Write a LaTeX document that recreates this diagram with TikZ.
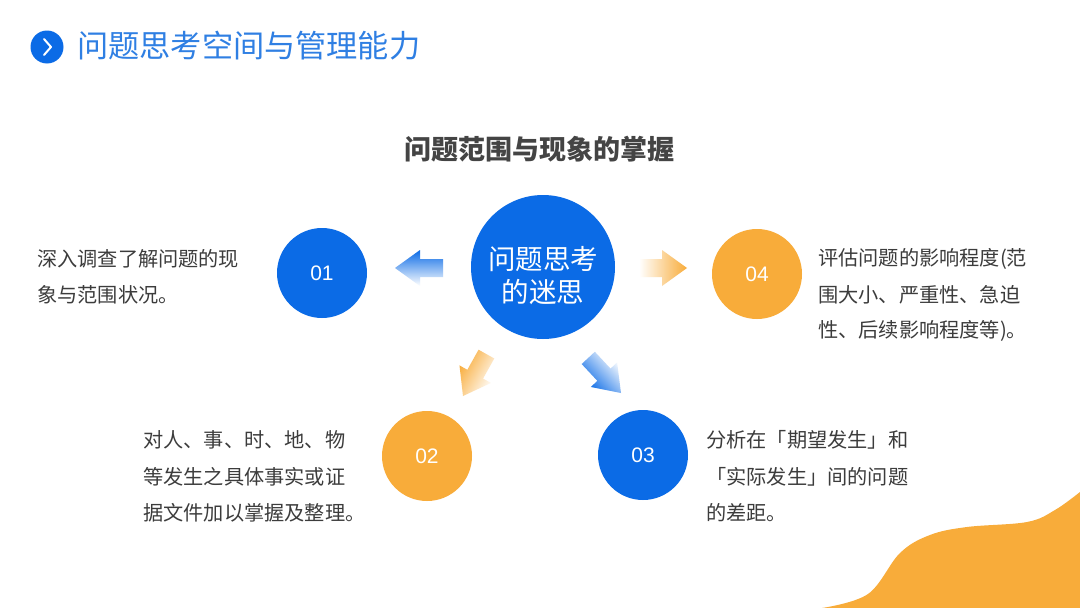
\documentclass[tikz,border=0pt]{standalone}
\usepackage{fontspec}
\setmainfont{Noto Sans CJK SC}
\newfontfamily\numfont{Liberation Sans}
\usetikzlibrary{shadings}
\definecolor{mblue}{HTML}{0B6BE6}
\definecolor{tblue}{HTML}{2F7FE3}
\definecolor{morange}{HTML}{F8AC3A}
\definecolor{tgray}{HTML}{3C3C3C}
\definecolor{sgray}{HTML}{444444}
\tikzset{
  bigdot/.style={circle, fill=mblue, minimum size=144pt, inner sep=0pt, text=white},
  numdot/.style={circle, minimum size=90pt, inner sep=0pt, text=white, font=\numfont\fontsize{21}{25}\selectfont},
  bluedot/.style={numdot, fill=mblue},
  orangedot/.style={numdot, fill=morange},
  desc/.style={anchor=west, inner sep=0pt, text=tgray, font=\fontsize{20.2}{24}\selectfont},
}
\newcommand{\arrowshape}{(0,0) -- (-25,18) -- (-25,9) -- (-48,9) -- (-48,-9) -- (-25,-9) -- (-25,-18) -- cycle}
\begin{document}
\begin{tikzpicture}[x=1pt,y=-1pt]
\useasboundingbox (0,0) rectangle (1080,608);
\fill[white] (0,0) rectangle (1080,608);
% orange blob
\fill[morange] plot[smooth, tension=0.6] coordinates {(822,608) (868,594) (900,553) (930,535) (967,527) (1027,522) (1055,510) (1080,492)} -- (1080,608) -- cycle;
% title
\node[circle, fill=mblue, minimum size=33pt, inner sep=0pt] (icon) at (47,47) {};
\draw[white, line width=2pt, line cap=round, line join=round] ([shift={(-3,-8)}]icon.center) coordinate (c1) -- ([shift={(4,0)}]icon.center) coordinate (c2) -- ([shift={(-3,8)}]icon.center) coordinate (c3);
\node[anchor=west, inner sep=0pt, text=tblue, font=\fontsize{31.2}{36}\selectfont] (title) at (77,46) {问题思考空间与管理能力};
\node[inner sep=0pt, text=sgray, font=\fontsize{27}{32}\selectfont\bfseries] (sub) at (539,149) {问题范围与现象的掌握};
% circles
\node[bigdot] (center) at (543,267) {};
\node[text=white, inner sep=0pt, font=\fontsize{27.5}{32}\selectfont] (cl1) at (543,259) {问题思考};
\node[text=white, inner sep=0pt, font=\fontsize{27.5}{32}\selectfont] (cl2) at (543,292) {的迷思};
\node[bluedot] (n1) at (322,273) {01};
\node[orangedot] (n4) at (757,274) {04};
\node[orangedot] (n2) at (427,456) {02};
\node[bluedot] (n3) at (643,455) {03};
% arrows
\begin{scope}[shift={(395,268)}, rotate=180]
\shade[left color=white, right color=mblue, shading angle=180] \arrowshape;
\end{scope}
\begin{scope}[shift={(687,268)}, rotate=0]
\shade[left color=white, right color=morange] \arrowshape;
\end{scope}
\begin{scope}[shift={(463,396)}, rotate=240.8]
\shade[left color=white, right color=morange, shading angle=240.8] \arrowshape;
\end{scope}
\begin{scope}[shift={(621,393)}, rotate=313]
\shade[left color=white, right color=mblue, shading angle=313] \arrowshape;
\end{scope}
% descriptions
\node[desc] (l1) at (37,259) {深入调查了解问题的现};
\node[desc] (l2) at (37,295) {象与范围状况。};
\node[desc] (r1) at (818,259) {评估问题的影响程度(范};
\node[desc] (r2) at (818,295) {围大小、严重性、急迫};
\node[desc] (r3) at (818,331) {性、后续影响程度等)。};
\node[desc] (b1) at (143,440) {对人、事、时、地、物};
\node[desc] (b2) at (143,477) {等发生之具体事实或证};
\node[desc] (b3) at (143,513) {据文件加以掌握及整理。};
\node[desc] (d1) at (706,440) {分析在「期望发生」和};
\node[desc] (d2) at (706,477) {「实际发生」间的问题};
\node[desc] (d3) at (706,513) {的差距。};
\end{tikzpicture}
\end{document}
